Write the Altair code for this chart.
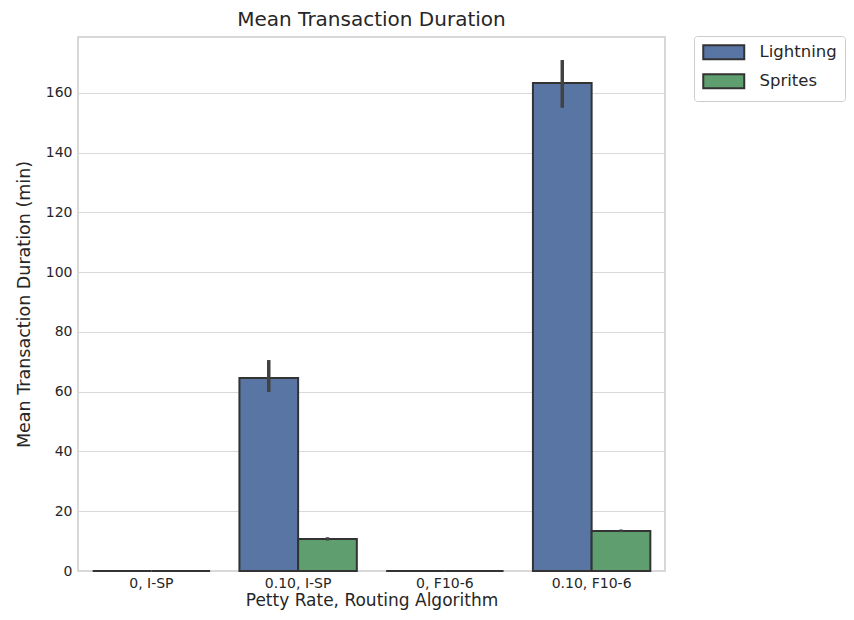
import altair as alt
import pandas as pd

categories = ["0, I-SP", "0.10, I-SP", "0, F10-6", "0.10, F10-6"]
series = ["Lightning", "Sprites"]
lightning_mean = [0.0, 64.6, 0.0, 163.3]
lightning_lo = [0.0, 59.9, 0.0, 155.0]
lightning_hi = [0.0, 70.6, 0.0, 171.0]
sprites_mean = [0.0, 10.7, 0.0, 13.4]
sprites_lo = [0.0, 10.2, 0.0, 13.0]
sprites_hi = [0.0, 11.3, 0.0, 13.9]

rows = []
for i, c in enumerate(categories):
    rows.append(dict(cat=c, series="Lightning", mean=lightning_mean[i], lo=lightning_lo[i], hi=lightning_hi[i]))
    rows.append(dict(cat=c, series="Sprites", mean=sprites_mean[i], lo=sprites_lo[i], hi=sprites_hi[i]))
df = pd.DataFrame(rows)
err_df = df[df["hi"] > df["lo"]]

FONT = "DejaVu Sans"
TXT = "#262626"

x_enc = alt.X("cat:N", sort=categories, title="Petty Rate, Routing Algorithm",
              scale=alt.Scale(paddingInner=0.2, paddingOuter=0.1),
              axis=alt.Axis(labelAngle=0, ticks=False, domain=False, grid=False,
                            labelPadding=5, titlePadding=2, titleFontSize=17))
xoff = alt.XOffset("series:N", sort=series, scale=alt.Scale(paddingInner=0, paddingOuter=0))
y_scale = alt.Scale(domain=[0, 178.7], nice=False, zero=True)

bars = alt.Chart(df).mark_bar(stroke="#333333", strokeWidth=2, opacity=1).encode(
    x=x_enc,
    xOffset=xoff,
    y=alt.Y("mean:Q", scale=y_scale, title="Mean Transaction Duration (min)",
            axis=alt.Axis(values=[0, 20, 40, 60, 80, 100, 120, 140, 160], ticks=False,
                          domain=False, labelPadding=6, titlePadding=12)),
    color=alt.Color("series:N", sort=series,
                    scale=alt.Scale(domain=series, range=["#5875A3", "#5F9E6E"]),
                    legend=alt.Legend(title=None, orient="none", legendX=616, legendY=-1,
                                      symbolType="M-1,-1L4.857,-1L4.857,1L-1,1Z",
                                      symbolSize=196, symbolStrokeColor="#333333",
                                      symbolStrokeWidth=2, symbolOpacity=1,
                                      labelFontSize=16.5, labelColor=TXT, labelFont=FONT,
                                      labelOffset=41, rowPadding=6,
                                      strokeColor="#cccccc", fillColor="white",
                                      cornerRadius=3, padding=8)),
)

errs = alt.Chart(err_df).mark_rule(color="#424242", strokeWidth=3.5).encode(
    x=alt.X("cat:N", sort=categories),
    xOffset=alt.XOffset("series:N", sort=series),
    y=alt.Y("lo:Q", scale=y_scale),
    y2="hi:Q",
)

chart = alt.layer(bars, errs).properties(
    width=587, height=534,
    title=alt.Title("Mean Transaction Duration", fontSize=20, font=FONT, color=TXT,
                    fontWeight="normal", offset=6),
    autosize=alt.AutoSizeParams(type="none"),
    padding={"left": 70, "top": 29, "right": 181, "bottom": 41},
).configure_view(stroke="#cccccc", strokeWidth=1.5).configure_axis(
    labelFont=FONT, titleFont=FONT, labelColor=TXT, titleColor=TXT,
    labelFontSize=14, titleFontSize=17.5, titleFontWeight="normal",
    gridColor="#d9d9d9", gridWidth=1.2,
)

chart.save("out.html", embed_options={"renderer": "svg", "actions": False})
